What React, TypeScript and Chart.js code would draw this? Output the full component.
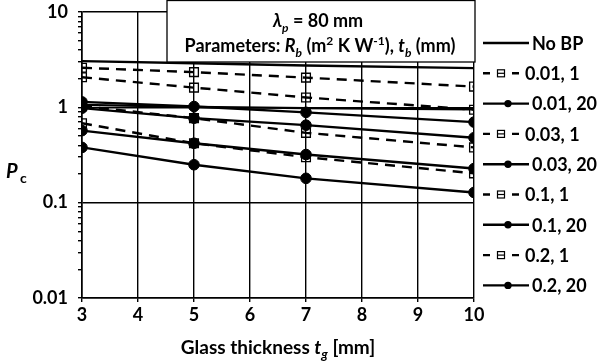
import React, { useEffect, useRef } from 'react';
import { Chart, registerables } from 'chart.js';

Chart.register(...registerables);

// ---- data ----
const xValues = [3, 5, 7, 10];
const xTicks = [3, 4, 5, 6, 7, 8, 9, 10];
const yTickLabels = ['0.01', '0.1', '1', '10'];

const seriesLabels = ['No BP', '0.01, 1', '0.01, 20', '0.03, 1', '0.03, 20', '0.1, 1', '0.1, 20', '0.2, 1', '0.2, 20'];

const noBP = [3.05, 2.9, 2.75, 2.58];
const noBPLower = [1.06, 1.01, 0.98, 0.955];
const rb001t1 = [2.6, 2.34, 2.05, 1.65];
const rb001t20 = [1.14, 1.02, 0.886, 0.7];
const rb003t1 = [2.07, 1.61, 1.27, 0.945];
const rb003t20 = [0.98, 0.77, 0.65, 0.48];
const rb01t1 = [1.03, 0.77, 0.54, 0.38];
const rb01t20 = [0.57, 0.42, 0.32, 0.228];
const rb02t1 = [0.68, 0.42, 0.3, 0.203];
const rb02t20 = [0.38, 0.25, 0.18, 0.128];

const FONT = 'Lato';
const FS = 18;

type Seg = { t: string; it?: boolean; sub?: boolean; sup?: boolean };

function drawRich(ctx: CanvasRenderingContext2D, segs: Seg[], x: number, y: number, size: number, align: 'left' | 'center') {
  const fontFor = (s: Seg) => `${s.it ? 'italic ' : ''}bold ${s.sub || s.sup ? Math.round(size * 0.68) : size}px ${FONT}`;
  let total = 0;
  for (const s of segs) {
    ctx.font = fontFor(s);
    total += ctx.measureText(s.t).width;
  }
  let cx = align === 'center' ? x - total / 2 : x;
  ctx.textAlign = 'left';
  ctx.textBaseline = 'alphabetic';
  for (const s of segs) {
    ctx.font = fontFor(s);
    const dy = s.sub ? size * 0.25 : s.sup ? -size * 0.4 : 0;
    ctx.fillText(s.t, cx, y + dy);
    cx += ctx.measureText(s.t).width;
  }
}

function mk(label: string, data: number[], kind: 'plain' | 'square' | 'circle', hide = false) {
  const base: any = {
    label,
    data: data.map((v, i) => ({ x: xValues[i], y: v })),
    borderColor: '#000',
    borderWidth: 2.4,
    fill: false,
    tension: 0,
    hideInLegend: hide,
    kind,
  };
  if (kind === 'plain') {
    base.pointRadius = 0;
  } else if (kind === 'square') {
    base.borderDash = [10, 7];
    base.pointStyle = 'rect';
    base.pointRadius = 6.2;
    base.pointBackgroundColor = 'rgba(0,0,0,0)';
    base.pointBorderColor = '#000';
    base.pointBorderWidth = 1.3;
  } else {
    base.pointStyle = 'circle';
    base.pointRadius = 5.3;
    base.pointBackgroundColor = '#000';
    base.pointBorderColor = '#000';
    base.pointBorderWidth = 1;
  }
  return base;
}

const overlayPlugin = {
  id: 'overlay',
  afterDatasetsDraw(chart: any) {
    const ctx: CanvasRenderingContext2D = chart.ctx;
    const area = chart.chartArea;
    ctx.save();
    // parameter box
    const bx = area.right - 307;
    const by = 0.5;
    const bw = 308;
    const bh = 61.5;
    ctx.fillStyle = '#fff';
    ctx.fillRect(bx, by, bw, bh);
    ctx.strokeStyle = '#000';
    ctx.lineWidth = 1.3;
    ctx.strokeRect(bx, by, bw, bh);
    ctx.fillStyle = '#000';
    const cx = bx + bw / 2;
    drawRich(ctx, [{ t: 'λ', it: true }, { t: 'p', it: true, sub: true }, { t: ' = 80 mm' }], cx - 3, 27, FS, 'center');
    drawRich(
      ctx,
      [
        { t: 'Parameters: ' },
        { t: 'R', it: true },
        { t: 'b', it: true, sub: true },
        { t: ' (m' },
        { t: '2', sup: true },
        { t: ' K W' },
        { t: '-1', sup: true },
        { t: '), ' },
        { t: 't', it: true },
        { t: 'b', it: true, sub: true },
        { t: ' (mm)' },
      ],
      cx - 1,
      52,
      FS,
      'center'
    );
    ctx.restore();
  },
  afterDraw(chart: any) {
    const ctx: CanvasRenderingContext2D = chart.ctx;
    const area = chart.chartArea;
    ctx.save();
    ctx.fillStyle = '#000';
    // axis titles
    drawRich(ctx, [{ t: 'Glass thickness ' }, { t: 't', it: true }, { t: 'g', it: true, sub: true }, { t: ' [mm]' }], (area.left + area.right) / 2, 354, 19, 'center');
    ctx.font = `italic bold 20px ${FONT}`;
    ctx.textAlign = 'left';
    ctx.textBaseline = 'alphabetic';
    ctx.fillText('P', 6, 178);
    ctx.font = `bold 14px ${FONT}`;
    ctx.fillText('c', 20, 183);

    // legend
    const lx0 = area.right + 9;
    const lx1 = lx0 + 46;
    let row = 0;
    chart.data.datasets.forEach((ds: any) => {
      if (ds.hideInLegend) return;
      const y = 43 + row * 30.3;
      row++;
      ctx.strokeStyle = '#000';
      ctx.fillStyle = '#000';
      ctx.lineWidth = 2.4;
      if (ds.kind === 'square') {
        ctx.setLineDash([]);
        ctx.beginPath();
        ctx.moveTo(lx0, y);
        ctx.lineTo(lx0 + 7, y);
        ctx.moveTo(lx0 + 29, y);
        ctx.lineTo(lx0 + 36, y);
        ctx.stroke();
        ctx.lineWidth = 1.2;
        ctx.strokeRect(lx0 + 14.5, y - 3.5, 7, 7);
        ctx.beginPath();
        ctx.moveTo(lx0 + 14.5, y);
        ctx.lineTo(lx0 + 21.5, y);
        ctx.stroke();
      } else {
        ctx.setLineDash([]);
        ctx.beginPath();
        ctx.moveTo(lx0, y);
        ctx.lineTo(lx1, y);
        ctx.stroke();
        if (ds.kind === 'circle') {
          ctx.beginPath();
          ctx.arc(lx0 + 25, y, 3.7, 0, Math.PI * 2);
          ctx.fill();
        }
      }
      ctx.font = `bold ${FS}px ${FONT}`;
      ctx.textAlign = 'left';
      ctx.textBaseline = 'middle';
      ctx.fillText(ds.label, ds.kind === 'square' ? lx0 + 42 : lx1 + 3, y + 1);
    });
    ctx.restore();
  },
};

const isMajor = (v: number) => yTickLabels.some((l) => Math.abs(Number(l) - v) < 1e-9 * Math.max(1, v));

export default function App() {
  const ref = useRef<HTMLCanvasElement | null>(null);
  useEffect(() => {
    document.body.style.margin = '0';
    if (!ref.current) return;
    const datasets = [
      mk(seriesLabels[0], noBP, 'plain'),
      mk(seriesLabels[1], rb001t1, 'square'),
      mk(seriesLabels[2], rb001t20, 'circle'),
      mk(seriesLabels[3], rb003t1, 'square'),
      mk(seriesLabels[4], rb003t20, 'circle'),
      mk(seriesLabels[5], rb01t1, 'square'),
      mk(seriesLabels[6], rb01t20, 'circle'),
      mk(seriesLabels[7], rb02t1, 'square'),
      mk(seriesLabels[8], rb02t20, 'circle'),
      mk(seriesLabels[0], noBPLower, 'plain', true),
    ];
    const chart = new Chart(ref.current, {
      type: 'line',
      data: { datasets },
      options: {
        animation: false,
        responsive: false,
        devicePixelRatio: 1,
        layout: { padding: { top: 12, right: 126, left: 0, bottom: 0 } },
        plugins: { legend: { display: false }, tooltip: { enabled: false } },
        scales: {
          x: {
            type: 'linear',
            min: 3,
            max: 10,
            afterBuildTicks: (s: any) => {
              s.ticks = xTicks.map((v) => ({ value: v }));
            },
            afterFit: (s: any) => {
              s.height = 64;
              s.paddingLeft = 0;
              s.paddingRight = 0;
            },
            grid: { color: '#000', lineWidth: 1.4, tickLength: 4, tickColor: '#000' },
            border: { color: '#000', width: 1.6 },
            ticks: { color: '#000', font: { family: FONT, size: FS, weight: 'bold' }, padding: 2, autoSkip: false, maxRotation: 0 },
          },
          y: {
            type: 'logarithmic',
            min: 0.01,
            max: 10,
            afterBuildTicks: (s: any) => {
              const t: any[] = [];
              for (let e = -2; e <= 0; e++) {
                for (let m = 1; m <= 9; m++) {
                  t.push({ value: Number((m * Math.pow(10, e)).toPrecision(6)) });
                }
              }
              t.push({ value: 10 });
              s.ticks = t;
            },
            afterFit: (s: any) => {
              s.width = 82;
              s.paddingTop = 0;
              s.paddingBottom = 0;
            },
            grid: {
              color: (c: any) => (c.tick && isMajor(c.tick.value) ? '#000' : 'rgba(0,0,0,0)'),
              lineWidth: 1.4,
              tickLength: 4,
              tickColor: '#000',
            },
            border: { color: '#000', width: 1.6 },
            ticks: {
              color: '#000',
              autoSkip: false,
              padding: 10,
              font: { family: FONT, size: FS, weight: 'bold' },
              callback: (v: any) => {
                const f = yTickLabels.find((l) => Math.abs(Number(l) - Number(v)) < 1e-9 * Math.max(1, Number(v)));
                return f ?? '';
              },
            },
          },
        },
      } as any,
      plugins: [overlayPlugin],
    });
    return () => chart.destroy();
  }, []);
  return (
    <div style={{ width: 600, height: 362, background: '#fff' }}>
      <canvas ref={ref} width={600} height={362} style={{ display: 'block' }} />
    </div>
  );
}
